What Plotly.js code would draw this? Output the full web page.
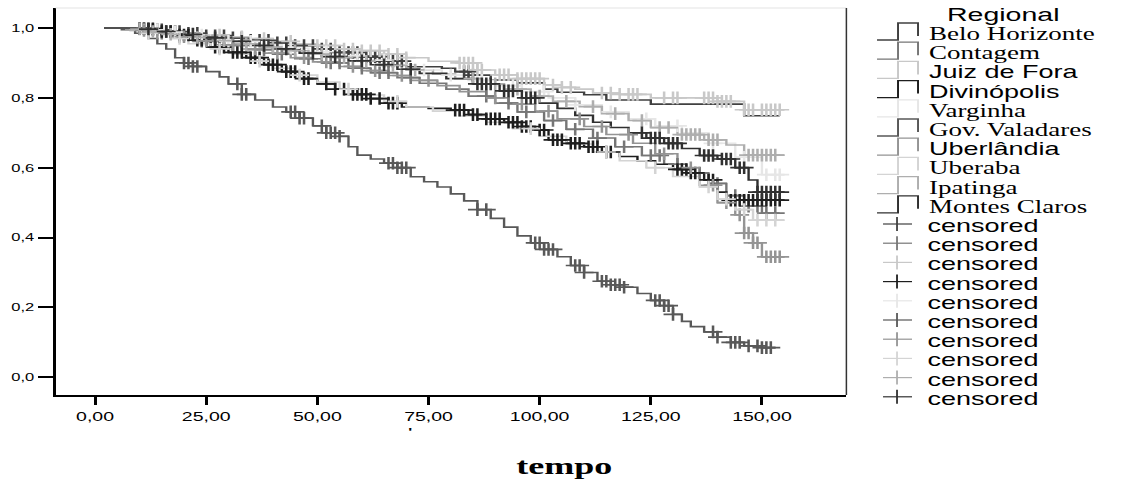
<!DOCTYPE html>
<html><head><meta charset="utf-8">
<script src="https://cdn.plot.ly/plotly-3.0.1.min.js"></script>
<style>
html,body{margin:0;padding:0;background:#fff;overflow:hidden;}
#chart{width:751px;height:483px;transform:scaleX(1.5007);transform-origin:0 0;}
</style></head><body><div id="chart"></div>
<script>
// ---------- data ----------
const regions = ['Belo Horizonte','Contagem','Juiz de Fora','Divinópolis','Varginha','Gov. Valadares','Uberlândia','Uberaba','Ipatinga','Montes Claros'];
const censoredLabel = 'censored';
const legendTitle = 'Regional';
const xAxisTitle = 'tempo';
const xTicks = [0,25,50,75,100,125,150];
const yTicks = [0,0.2,0.4,0.6,0.8,1.0];

const bhTime = [2,8,12,16,20,25,30,35,40,45,50,55,60,65,70,78,81,85,89,95,101,104,110,115,125,146,154];
const bhSurv = [1,0.998,0.995,0.99,0.985,0.978,0.972,0.965,0.958,0.95,0.94,0.93,0.918,0.905,0.889,0.885,0.875,0.865,0.851,0.843,0.825,0.816,0.809,0.794,0.782,0.749,0.749];
const bhCens = [10,11,12,13,14,15,16,17,18,19,21,23,25,27,29,31,33,35,37,39,41,43,45,47,49,51,53,55,57,58,59,60,61,62,63,64,65,66,67,68,69,83,84,85];

const coTime = [2,9,13,18,23,29,34,40,45,51,57,62,68,73,79,84,90,95,101,106,112,117,123,128,133,138,142,146,150,154];
const coSurv = [1,0.995,0.985,0.975,0.962,0.95,0.938,0.925,0.912,0.9,0.885,0.872,0.858,0.842,0.825,0.805,0.785,0.76,0.735,0.71,0.685,0.66,0.635,0.61,0.585,0.555,0.52,0.49,0.47,0.47];
const coCens = [12,15,19,24,27,33,38,42,48,53,55,60,64,66,71,88,93,97,103,108,113,119,125,127,131,136,140,144,147,149,151,153];

const jfTime = [2,8,12,16,20,25,30,35,40,45,50,55,60,65,70,75,82,86,90,95,101,105,108,112,118,125,132,140,146,155];
const jfSurv = [1,0.998,0.995,0.99,0.985,0.98,0.975,0.97,0.962,0.955,0.95,0.94,0.935,0.925,0.915,0.905,0.9,0.88,0.866,0.855,0.837,0.83,0.825,0.814,0.81,0.8,0.8,0.79,0.766,0.766];
const jfCens = [10,11,12,13,14,18,22,28,33,38,44,50,52,54,56,58,60,62,64,66,68,70,82,83,84,85,86,87,91,92,93,95,96,97,98,99,100,103,105,107,114,116,118,120,121,122,128,130,131,137,138,139,140,141,142,143,146,147,148,150,151,152,153,154];

const diTime = [2,10,14,18,22,26,30,34,38,42,46,50,54,58,62,66,69,75,80,84,88,92,96,99,102,106,110,114,118,122,126,130,134,137,140,142,155];
const diSurv = [1,0.998,0.99,0.98,0.965,0.945,0.93,0.915,0.895,0.875,0.855,0.84,0.825,0.81,0.798,0.785,0.774,0.77,0.765,0.752,0.74,0.73,0.718,0.708,0.68,0.67,0.66,0.645,0.632,0.62,0.61,0.595,0.585,0.565,0.53,0.507,0.507];
const diCens = [10,11,12,13,15,17,19,20,21,23,24,25,27,28,29,31,32,33,35,36,37,39,40,41,43,44,45,47,48,52,54,56,58,59,60,61,62,64,66,67,68,81,82,83,85,86,88,89,90,91,93,94,95,96,97,98,100,101,103,104,105,107,108,109,111,112,113,115,116,131,132,133,134,135,138,139,143,144,145,146,147,148,149,150,151,152,153,154];

const vaTime = [2,10,15,20,25,30,36,42,48,54,60,66,72,78,84,90,96,102,108,114,120,126,132,138,144,150,155];
const vaSurv = [1,0.995,0.988,0.98,0.972,0.962,0.952,0.942,0.932,0.92,0.908,0.895,0.88,0.865,0.85,0.835,0.818,0.8,0.78,0.76,0.74,0.72,0.7,0.67,0.63,0.58,0.58];
const vaCens = [11,14,18,24,30,35,44,52,59,65,74,80,87,94,101,108,116,124,131,139,146,151,153,154];

const gvTime = [2,6,9,12,14,16,18,20,22,25,28,30,33,36,40,43,46,49,52,55,57,59,62,65,68,71,74,77,80,83,86,89,92,95,98,101,104,107,110,113,116,119,122,125,128,130,132,134,137,140,143,146,150,153];
const gvSurv = [1,0.995,0.985,0.97,0.955,0.94,0.915,0.9,0.89,0.875,0.86,0.84,0.81,0.794,0.774,0.76,0.742,0.72,0.7,0.69,0.66,0.636,0.625,0.613,0.6,0.574,0.56,0.545,0.525,0.505,0.48,0.455,0.43,0.405,0.385,0.366,0.345,0.32,0.3,0.275,0.265,0.258,0.24,0.22,0.205,0.18,0.16,0.145,0.13,0.115,0.1,0.09,0.085,0.085];
const gvCens = [20,21,22,23,32,33,34,44,45,46,47,51,52,53,54,55,66,67,68,69,70,86,88,99,100,101,102,103,108,109,110,114,115,116,117,118,119,126,127,128,129,130,139,140,143,144,145,147,149,150,151,152];

const ulTime = [2,8,12,17,22,27,33,38,44,49,55,60,66,71,77,82,88,93,99,104,110,115,121,126,131,136,140,144,146,148,150,155];
const ulSurv = [1,0.993,0.985,0.975,0.963,0.952,0.94,0.928,0.915,0.903,0.89,0.878,0.864,0.85,0.835,0.818,0.8,0.782,0.762,0.74,0.718,0.695,0.67,0.64,0.6,0.55,0.5,0.465,0.413,0.385,0.345,0.345];
const ulCens = [11,14,20,25,31,36,41,47,52,58,63,69,75,90,96,102,109,114,120,128,134,139,142,145,146,147,148,149,151,152,153,154];

const ubTime = [2,8,12,17,21,26,31,35,40,45,50,55,60,65,70,76,82,88,94,100,106,112,118,124,130,136,140,144,148,155];
const ubSurv = [1,0.995,0.985,0.97,0.955,0.94,0.925,0.905,0.885,0.865,0.845,0.825,0.808,0.79,0.774,0.762,0.748,0.73,0.712,0.69,0.668,0.645,0.62,0.6,0.575,0.545,0.51,0.48,0.45,0.45];
const ubCens = [12,19,28,37,46,57,68,98,115,126,138,142,146,149,151,153];

const ipTime = [2,7,11,16,21,26,31,37,42,48,53,59,64,70,76,81,87,92,98,103,109,114,120,125,131,137,142,146,155];
const ipSurv = [1,0.997,0.99,0.982,0.973,0.964,0.955,0.945,0.935,0.925,0.915,0.905,0.893,0.88,0.868,0.855,0.84,0.825,0.805,0.79,0.775,0.755,0.735,0.715,0.695,0.68,0.665,0.636,0.636];
const ipCens = [10,13,17,23,29,34,40,45,51,56,61,67,72,85,90,95,100,106,112,117,123,127,129,132,133,134,135,136,138,139,140,147,148,149,150,151,152,153];

const mcTime = [2,9,14,19,24,29,35,40,46,51,57,62,68,73,79,85,91,96,100,104,108,112,116,120,124,128,132,136,140,144,147,149,155];
const mcSurv = [1,0.997,0.99,0.982,0.972,0.962,0.95,0.94,0.928,0.918,0.906,0.895,0.882,0.87,0.855,0.84,0.82,0.8,0.785,0.77,0.75,0.73,0.715,0.7,0.685,0.67,0.655,0.635,0.625,0.6,0.565,0.53,0.53];
const mcCens = [12,16,22,27,33,38,43,49,54,60,65,71,86,87,88,89,92,93,94,97,98,99,123,125,126,127,129,130,131,137,138,139,141,142,143,145,146,149,150,151,152,153,154];

// ---------- styles ----------
const colors = ['#404040','#767676','#c8c8c8','#1e1e1e','#e6e6e6','#585858','#949494','#d4d4d4','#aeaeae','#303030'];
const legendFonts = ['Liberation Serif','Liberation Serif','Liberation Sans','Liberation Sans','Liberation Serif','Liberation Serif','Liberation Sans','Liberation Serif','Liberation Serif','Liberation Serif'];

const series = [
  [bhTime,bhSurv,bhCens],[coTime,coSurv,coCens],[jfTime,jfSurv,jfCens],[diTime,diSurv,diCens],[vaTime,vaSurv,vaCens],
  [gvTime,gvSurv,gvCens],[ulTime,ulSurv,ulCens],[ubTime,ubSurv,ubCens],[ipTime,ipSurv,ipCens],[mcTime,mcSurv,mcCens]
];

function stepAt(t, s, c){
  let v = s[0];
  for (let i=0;i<t.length;i++){ if (t[i] <= c) v = s[i]; else break; }
  return v;
}

const traces = [];
series.forEach((d,i)=>{
  traces.push({x:d[0], y:d[1], mode:'lines', name:regions[i], showlegend:false, hoverinfo:'skip',
    line:{shape:'hv', color:colors[i], width:1.6}});
});
series.forEach((d,i)=>{
  traces.push({x:d[2], y:d[2].map(c=>stepAt(d[0],d[1],c)), mode:'markers', name:regions[i]+' '+censoredLabel,
    showlegend:false, hoverinfo:'skip',
    marker:{symbol:'cross-thin', size:9, color:colors[i], line:{color:colors[i], width:1.7}}});
});

// ---------- layout geometry ----------
const W=751, H=483, ML=37, MR=187, MT=8, MB=88, SX=1127/751;
const PW=W-ML-MR, PH=H-MT-MB;
function px(xo){ return (xo/SX - ML)/PW; }
function py(yo){ return (H-MB - yo)/PH; }

const shapes = [
  {type:'line', xref:'paper', yref:'paper', x0:0, x1:1, y0:1, y1:1, line:{color:'#e4e4e4', width:1}},
  {type:'line', xref:'paper', yref:'paper', x0:1, x1:1, y0:0, y1:1, line:{color:'#333', width:1}}
];
const annotations = [
  {xref:'paper', yref:'paper', x:px(1003), y:py(15), text:legendTitle, showarrow:false, xanchor:'center', yanchor:'middle',
   font:{family:'Liberation Sans', size:19, color:'#000'}},
  {xref:'paper', yref:'paper', x:px(565), y:py(466), text:'<b>'+xAxisTitle+'</b>', showarrow:false, xanchor:'center', yanchor:'middle',
   font:{family:'Liberation Serif', size:24, color:'#000'}},
  {xref:'paper', yref:'paper', x:px(411), y:py(432), text:"<b>'</b>", showarrow:false, xanchor:'center', yanchor:'middle',
   font:{family:'Liberation Sans', size:11, color:'#000'}}
];
const rowH = 19.2, row0 = 34;
regions.forEach((r,i)=>{
  const yc = row0 + rowH*i;
  shapes.push({type:'path', xref:'paper', yref:'paper',
    path:`M ${px(877)},${py(yc+6)} L ${px(898)},${py(yc+6)} L ${px(898)},${py(yc-11)} L ${px(918)},${py(yc-11)} L ${px(918)},${py(yc+2)}`,
    line:{color:colors[i], width:1.3}});
  annotations.push({xref:'paper', yref:'paper', x:px(926), y:py(yc), text:r, showarrow:false, xanchor:'left', yanchor:'middle',
    font:{family:legendFonts[i], size:18, color:'#000'}});
});
regions.forEach((r,i)=>{
  const yc = row0 + rowH*(10+i);
  shapes.push({type:'line', xref:'paper', yref:'paper', x0:px(883), x1:px(912), y0:py(yc-2), y1:py(yc-2), line:{color:colors[i], width:1.2}});
  shapes.push({type:'line', xref:'paper', yref:'paper', x0:px(897), x1:px(897), y0:py(yc-9), y1:py(yc+5), line:{color:colors[i], width:1.2}});
  annotations.push({xref:'paper', yref:'paper', x:px(925), y:py(yc), text:censoredLabel, showarrow:false, xanchor:'left', yanchor:'middle',
    font:{family:'Liberation Sans', size:18, color:'#000'}});
});

const layout = {
  width:W, height:H, margin:{l:ML, r:MR, t:MT, b:MB, pad:0},
  paper_bgcolor:'#fff', plot_bgcolor:'#fff', showlegend:false, separators:',.',
  xaxis:{range:[-8.9,169.0], tickvals:xTicks, tickformat:'.2f', ticks:'outside', ticklen:8, tickwidth:2, tickcolor:'#000',
    showline:true, linewidth:2, linecolor:'#000', showgrid:false, zeroline:false,
    tickfont:{family:'Liberation Sans', size:13, color:'#000'}},
  yaxis:{range:[-0.0507,1.0573], tickvals:yTicks, tickformat:'.1f', ticks:'outside', ticklen:10, tickwidth:2, tickcolor:'#000',
    showline:true, linewidth:2, linecolor:'#000', showgrid:false, zeroline:false,
    tickfont:{family:'Liberation Sans', size:11, color:'#000'}},
  shapes:shapes, annotations:annotations
};
Plotly.newPlot('chart', traces, layout, {staticPlot:true, displayModeBar:false});
</script></body></html>
